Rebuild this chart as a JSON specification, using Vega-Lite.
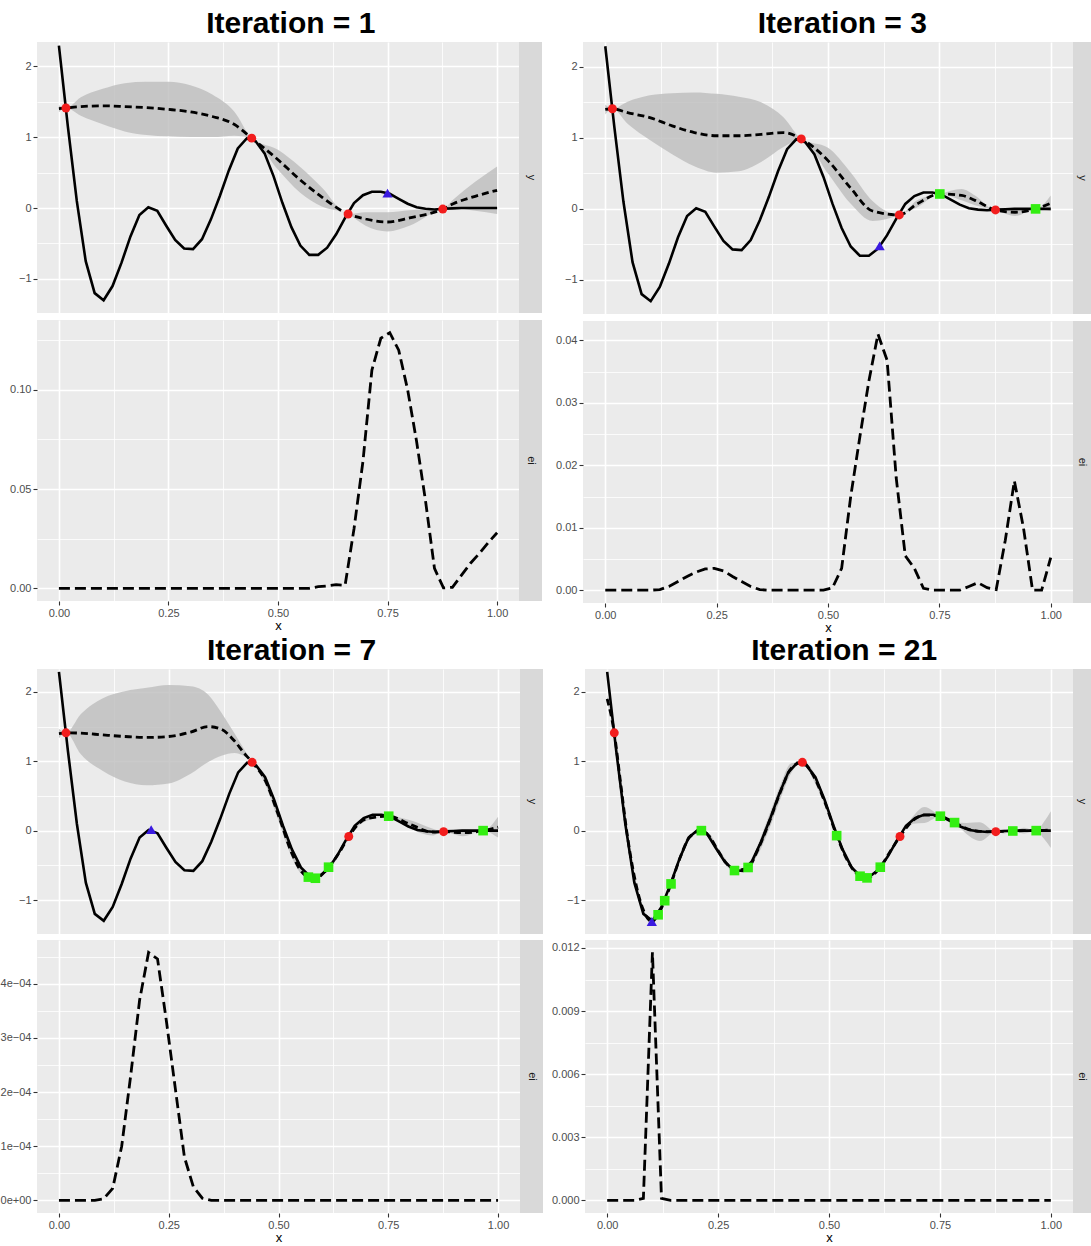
{
"$schema": "https://vega.github.io/schema/vega-lite/v6.json",
"padding": {"left": 0, "right": 0, "top": 9, "bottom": 0},
"config": {
 "font": "Liberation Sans",
 "view": {"fill": "#EBEBEB", "stroke": null},
 "axis": {"labelFont": "Liberation Sans", "labelFontSize": 11, "labelColor": "#4D4D4D", "tickColor": "#333333", "tickSize": 4, "tickWidth": 1.1, "labelPadding": 2, "domain": false, "gridColor": "#FFFFFF", "labelOverlap": false, "labelFlush": false, "titleFont": "Liberation Sans", "titleFontSize": 13, "titleFontWeight": "normal", "titleColor": "#000000", "titlePadding": 1},
 "title": {"font": "Liberation Sans", "fontSize": 30, "fontWeight": "bold", "color": "#000000", "anchor": "middle", "offset": 3}
},
"datasets": {
 "truth": [
  {"x":0,"y":2.29},{"x":0.0204,"y":1.15},{"x":0.0408,"y":0.10},{"x":0.0612,"y":-0.75},{"x":0.0816,"y":-1.20},{"x":0.102,"y":-1.30},{"x":0.1224,"y":-1.10},{"x":0.1429,"y":-0.77},{"x":0.1633,"y":-0.40},{"x":0.1837,"y":-0.10},{"x":0.2041,"y":0.01},{"x":0.2245,"y":-0.04},{"x":0.2449,"y":-0.25},{"x":0.2653,"y":-0.45},{"x":0.2857,"y":-0.57},{"x":0.3061,"y":-0.58},{"x":0.3265,"y":-0.44},{"x":0.3469,"y":-0.16},{"x":0.3673,"y":0.17},{"x":0.3878,"y":0.53},{"x":0.4082,"y":0.84},{"x":0.4286,"y":0.98},{"x":0.449,"y":0.94},{"x":0.4694,"y":0.77},{"x":0.4898,"y":0.45},{"x":0.5102,"y":0.07},{"x":0.5306,"y":-0.27},{"x":0.551,"y":-0.53},{"x":0.5714,"y":-0.66},{"x":0.5918,"y":-0.66},{"x":0.6122,"y":-0.56},{"x":0.6327,"y":-0.37},{"x":0.6531,"y":-0.14},{"x":0.6735,"y":0.07},{"x":0.6939,"y":0.18},{"x":0.7143,"y":0.23},{"x":0.7347,"y":0.23},{"x":0.7551,"y":0.20},{"x":0.7755,"y":0.13},{"x":0.7959,"y":0.06},{"x":0.8163,"y":0.01},{"x":0.8367,"y":-0.01},{"x":0.8571,"y":-0.02},{"x":0.8776,"y":-0.01},{"x":0.898,"y":-0.005},{"x":0.9184,"y":0},{"x":0.9388,"y":0},{"x":0.9592,"y":0},{"x":0.9796,"y":0},{"x":1,"y":0}
 ],
 "gp": [
  {"iter":1,"x":0,"mean":1.40,"lo":1.35,"hi":1.45},{"iter":1,"x":0.016,"mean":1.41,"lo":1.41,"hi":1.41},{"iter":1,"x":0.05,"mean":1.43,"lo":1.30,"hi":1.56},{"iter":1,"x":0.1,"mean":1.44,"lo":1.18,"hi":1.68},{"iter":1,"x":0.15,"mean":1.43,"lo":1.08,"hi":1.76},{"iter":1,"x":0.2,"mean":1.415,"lo":1.03,"hi":1.78},{"iter":1,"x":0.25,"mean":1.39,"lo":1.01,"hi":1.78},{"iter":1,"x":0.3,"mean":1.355,"lo":1.0,"hi":1.73},{"iter":1,"x":0.35,"mean":1.29,"lo":1.0,"hi":1.60},{"iter":1,"x":0.4,"mean":1.18,"lo":1.02,"hi":1.36},{"iter":1,"x":0.44,"mean":0.985,"lo":0.985,"hi":0.985},{"iter":1,"x":0.5,"mean":0.68,"lo":0.54,"hi":0.82},{"iter":1,"x":0.55,"mean":0.40,"lo":0.22,"hi":0.58},{"iter":1,"x":0.6,"mean":0.155,"lo":0.02,"hi":0.29},{"iter":1,"x":0.66,"mean":-0.085,"lo":-0.085,"hi":-0.085},{"iter":1,"x":0.7,"mean":-0.155,"lo":-0.25,"hi":-0.06},{"iter":1,"x":0.75,"mean":-0.197,"lo":-0.33,"hi":-0.06},{"iter":1,"x":0.8,"mean":-0.14,"lo":-0.25,"hi":-0.03},{"iter":1,"x":0.876,"mean":-0.015,"lo":-0.015,"hi":-0.015},{"iter":1,"x":0.9,"mean":0.06,"lo":0.0,"hi":0.12},{"iter":1,"x":0.95,"mean":0.165,"lo":-0.04,"hi":0.37},{"iter":1,"x":1,"mean":0.25,"lo":-0.085,"hi":0.585},
  {"iter":3,"x":0,"mean":1.40,"lo":1.33,"hi":1.47},{"iter":3,"x":0.016,"mean":1.41,"lo":1.41,"hi":1.41},{"iter":3,"x":0.05,"mean":1.355,"lo":1.20,"hi":1.51},{"iter":3,"x":0.1,"mean":1.285,"lo":0.97,"hi":1.60},{"iter":3,"x":0.15,"mean":1.17,"lo":0.77,"hi":1.63},{"iter":3,"x":0.2,"mean":1.075,"lo":0.60,"hi":1.64},{"iter":3,"x":0.25,"mean":1.03,"lo":0.51,"hi":1.62},{"iter":3,"x":0.3,"mean":1.03,"lo":0.53,"hi":1.58},{"iter":3,"x":0.35,"mean":1.05,"lo":0.66,"hi":1.50},{"iter":3,"x":0.4,"mean":1.075,"lo":0.87,"hi":1.29},{"iter":3,"x":0.44,"mean":0.985,"lo":0.985,"hi":0.985},{"iter":3,"x":0.5,"mean":0.68,"lo":0.50,"hi":0.86},{"iter":3,"x":0.55,"mean":0.30,"lo":0.08,"hi":0.52},{"iter":3,"x":0.6,"mean":-0.03,"lo":-0.17,"hi":0.11},{"iter":3,"x":0.66,"mean":-0.085,"lo":-0.085,"hi":-0.085},{"iter":3,"x":0.7,"mean":0.07,"lo":0.02,"hi":0.12},{"iter":3,"x":0.751,"mean":0.21,"lo":0.21,"hi":0.21},{"iter":3,"x":0.8,"mean":0.19,"lo":0.12,"hi":0.28},{"iter":3,"x":0.83,"mean":0.12,"lo":0.05,"hi":0.19},{"iter":3,"x":0.876,"mean":-0.015,"lo":-0.015,"hi":-0.015},{"iter":3,"x":0.92,"mean":-0.047,"lo":-0.10,"hi":0.0},{"iter":3,"x":0.966,"mean":0.0,"lo":0.0,"hi":0.0},{"iter":3,"x":1,"mean":0.08,"lo":-0.03,"hi":0.19},
  {"iter":7,"x":0,"mean":1.40,"lo":1.33,"hi":1.47},{"iter":7,"x":0.016,"mean":1.41,"lo":1.41,"hi":1.41},{"iter":7,"x":0.05,"mean":1.405,"lo":1.10,"hi":1.68},{"iter":7,"x":0.1,"mean":1.38,"lo":0.86,"hi":1.91},{"iter":7,"x":0.15,"mean":1.357,"lo":0.71,"hi":2.01},{"iter":7,"x":0.2,"mean":1.343,"lo":0.655,"hi":2.06},{"iter":7,"x":0.25,"mean":1.357,"lo":0.68,"hi":2.10},{"iter":7,"x":0.3,"mean":1.42,"lo":0.82,"hi":2.08},{"iter":7,"x":0.34,"mean":1.50,"lo":0.99,"hi":1.96},{"iter":7,"x":0.37,"mean":1.46,"lo":1.08,"hi":1.70},{"iter":7,"x":0.4,"mean":1.29,"lo":1.12,"hi":1.40},{"iter":7,"x":0.42,"mean":1.13,"lo":1.08,"hi":1.19},{"iter":7,"x":0.44,"mean":0.985,"lo":0.985,"hi":0.985},{"iter":7,"x":0.47,"mean":0.72,"lo":0.66,"hi":0.80},{"iter":7,"x":0.5,"mean":0.22,"lo":0.14,"hi":0.30},{"iter":7,"x":0.53,"mean":-0.32,"lo":-0.38,"hi":-0.26},{"iter":7,"x":0.55,"mean":-0.57,"lo":-0.61,"hi":-0.53},{"iter":7,"x":0.568,"mean":-0.67,"lo":-0.67,"hi":-0.67},{"iter":7,"x":0.584,"mean":-0.686,"lo":-0.686,"hi":-0.686},{"iter":7,"x":0.614,"mean":-0.527,"lo":-0.527,"hi":-0.527},{"iter":7,"x":0.64,"mean":-0.30,"lo":-0.32,"hi":-0.28},{"iter":7,"x":0.66,"mean":-0.085,"lo":-0.085,"hi":-0.085},{"iter":7,"x":0.7,"mean":0.17,"lo":0.14,"hi":0.20},{"iter":7,"x":0.751,"mean":0.208,"lo":0.208,"hi":0.208},{"iter":7,"x":0.8,"mean":0.09,"lo":0.03,"hi":0.15},{"iter":7,"x":0.85,"mean":-0.02,"lo":-0.07,"hi":0.03},{"iter":7,"x":0.876,"mean":-0.015,"lo":-0.015,"hi":-0.015},{"iter":7,"x":0.92,"mean":-0.03,"lo":-0.08,"hi":0.02},{"iter":7,"x":0.966,"mean":0.0,"lo":0.0,"hi":0.0},{"iter":7,"x":1,"mean":0.05,"lo":-0.10,"hi":0.20},
  {"iter":21,"x":0,"mean":1.90,"lo":1.84,"hi":1.96},{"iter":21,"x":0.016,"mean":1.41,"lo":1.41,"hi":1.41},{"iter":21,"x":0.03,"mean":0.70,"lo":0.62,"hi":0.78},{"iter":21,"x":0.045,"mean":-0.05,"lo":-0.10,"hi":0.0},{"iter":21,"x":0.06,"mean":-0.62,"lo":-0.66,"hi":-0.58},{"iter":21,"x":0.08,"mean":-1.12,"lo":-1.15,"hi":-1.09},{"iter":21,"x":0.1006,"mean":-1.31,"lo":-1.31,"hi":-1.31},{"iter":21,"x":0.1148,"mean":-1.213,"lo":-1.213,"hi":-1.213},{"iter":21,"x":0.1297,"mean":-1.01,"lo":-1.01,"hi":-1.01},{"iter":21,"x":0.1439,"mean":-0.768,"lo":-0.768,"hi":-0.768},{"iter":21,"x":0.165,"mean":-0.38,"lo":-0.42,"hi":-0.34},{"iter":21,"x":0.185,"mean":-0.10,"lo":-0.14,"hi":-0.06},{"iter":21,"x":0.2123,"mean":0.0,"lo":0.0,"hi":0.0},{"iter":21,"x":0.23,"mean":-0.08,"lo":-0.12,"hi":-0.04},{"iter":21,"x":0.25,"mean":-0.29,"lo":-0.33,"hi":-0.25},{"iter":21,"x":0.27,"mean":-0.48,"lo":-0.52,"hi":-0.44},{"iter":21,"x":0.287,"mean":-0.575,"lo":-0.575,"hi":-0.575},{"iter":21,"x":0.3176,"mean":-0.531,"lo":-0.531,"hi":-0.531},{"iter":21,"x":0.34,"mean":-0.27,"lo":-0.34,"hi":-0.20},{"iter":21,"x":0.365,"mean":0.12,"lo":0.02,"hi":0.22},{"iter":21,"x":0.39,"mean":0.55,"lo":0.45,"hi":0.65},{"iter":21,"x":0.415,"mean":0.90,"lo":0.83,"hi":0.97},{"iter":21,"x":0.44,"mean":0.985,"lo":0.985,"hi":0.985},{"iter":21,"x":0.465,"mean":0.79,"lo":0.73,"hi":0.85},{"iter":21,"x":0.49,"mean":0.42,"lo":0.37,"hi":0.47},{"iter":21,"x":0.5173,"mean":-0.072,"lo":-0.072,"hi":-0.072},{"iter":21,"x":0.545,"mean":-0.47,"lo":-0.50,"hi":-0.44},{"iter":21,"x":0.57,"mean":-0.657,"lo":-0.657,"hi":-0.657},{"iter":21,"x":0.5857,"mean":-0.681,"lo":-0.681,"hi":-0.681},{"iter":21,"x":0.6156,"mean":-0.527,"lo":-0.527,"hi":-0.527},{"iter":21,"x":0.64,"mean":-0.28,"lo":-0.30,"hi":-0.26},{"iter":21,"x":0.66,"mean":-0.085,"lo":-0.085,"hi":-0.085},{"iter":21,"x":0.69,"mean":0.15,"lo":0.10,"hi":0.21},{"iter":21,"x":0.715,"mean":0.225,"lo":0.11,"hi":0.34},{"iter":21,"x":0.751,"mean":0.208,"lo":0.208,"hi":0.208},{"iter":21,"x":0.783,"mean":0.116,"lo":0.116,"hi":0.116},{"iter":21,"x":0.81,"mean":0.03,"lo":-0.05,"hi":0.11},{"iter":21,"x":0.84,"mean":-0.01,"lo":-0.15,"hi":0.12},{"iter":21,"x":0.876,"mean":-0.015,"lo":-0.015,"hi":-0.015},{"iter":21,"x":0.895,"mean":-0.01,"lo":-0.04,"hi":0.02},{"iter":21,"x":0.9143,"mean":-0.005,"lo":-0.005,"hi":-0.005},{"iter":21,"x":0.94,"mean":0.0,"lo":-0.04,"hi":0.04},{"iter":21,"x":0.967,"mean":0.0,"lo":0.0,"hi":0.0},{"iter":21,"x":0.985,"mean":0.005,"lo":-0.12,"hi":0.13},{"iter":21,"x":1,"mean":0.01,"lo":-0.25,"hi":0.28}
 ],
 "ei": [
  {"iter":1,"x":0,"ei":0},{"iter":1,"x":0.5714,"ei":0},{"iter":1,"x":0.5918,"ei":0.0008},{"iter":1,"x":0.6122,"ei":0.0012},{"iter":1,"x":0.6327,"ei":0.0018},{"iter":1,"x":0.6531,"ei":0.0015},{"iter":1,"x":0.6735,"ei":0.030},{"iter":1,"x":0.6939,"ei":0.064},{"iter":1,"x":0.7143,"ei":0.110},{"iter":1,"x":0.7347,"ei":0.126},{"iter":1,"x":0.7551,"ei":0.1288},{"iter":1,"x":0.7755,"ei":0.120},{"iter":1,"x":0.7959,"ei":0.100},{"iter":1,"x":0.8163,"ei":0.074},{"iter":1,"x":0.8367,"ei":0.044},{"iter":1,"x":0.8571,"ei":0.010},{"iter":1,"x":0.8776,"ei":0.0002},{"iter":1,"x":0.898,"ei":0.0005},{"iter":1,"x":0.9184,"ei":0.0065},{"iter":1,"x":0.9388,"ei":0.0125},{"iter":1,"x":0.9592,"ei":0.0175},{"iter":1,"x":0.9796,"ei":0.023},{"iter":1,"x":1,"ei":0.028},
  {"iter":3,"x":0,"ei":0},{"iter":3,"x":0.102,"ei":0},{"iter":3,"x":0.1224,"ei":0.0001},{"iter":3,"x":0.1429,"ei":0.0006},{"iter":3,"x":0.1633,"ei":0.0014},{"iter":3,"x":0.1837,"ei":0.0022},{"iter":3,"x":0.2041,"ei":0.0029},{"iter":3,"x":0.2245,"ei":0.0034},{"iter":3,"x":0.2449,"ei":0.0035},{"iter":3,"x":0.2653,"ei":0.0031},{"iter":3,"x":0.2857,"ei":0.0022},{"iter":3,"x":0.3061,"ei":0.0014},{"iter":3,"x":0.3265,"ei":0.0006},{"iter":3,"x":0.3469,"ei":0.0001},{"iter":3,"x":0.3673,"ei":0},{"iter":3,"x":0.4898,"ei":0},{"iter":3,"x":0.5102,"ei":0.0004},{"iter":3,"x":0.5306,"ei":0.0035},{"iter":3,"x":0.551,"ei":0.015},{"iter":3,"x":0.5714,"ei":0.0245},{"iter":3,"x":0.5918,"ei":0.0335},{"iter":3,"x":0.6122,"ei":0.041},{"iter":3,"x":0.6327,"ei":0.0368},{"iter":3,"x":0.6531,"ei":0.018},{"iter":3,"x":0.6735,"ei":0.0055},{"iter":3,"x":0.6939,"ei":0.0035},{"iter":3,"x":0.7143,"ei":0.0003},{"iter":3,"x":0.7347,"ei":0},{"iter":3,"x":0.7959,"ei":0},{"iter":3,"x":0.8163,"ei":0.0006},{"iter":3,"x":0.8367,"ei":0.0012},{"iter":3,"x":0.8571,"ei":0.0004},{"iter":3,"x":0.8776,"ei":0.0001},{"iter":3,"x":0.898,"ei":0.008},{"iter":3,"x":0.9184,"ei":0.0175},{"iter":3,"x":0.9388,"ei":0.010},{"iter":3,"x":0.9592,"ei":0},{"iter":3,"x":0.9796,"ei":0},{"iter":3,"x":1,"ei":0.0052},
  {"iter":7,"x":0,"ei":0},{"iter":7,"x":0.0816,"ei":0},{"iter":7,"x":0.102,"ei":0.000003},{"iter":7,"x":0.1224,"ei":0.000022},{"iter":7,"x":0.1429,"ei":0.0001},{"iter":7,"x":0.1633,"ei":0.00023},{"iter":7,"x":0.1837,"ei":0.00037},{"iter":7,"x":0.2041,"ei":0.000458},{"iter":7,"x":0.2245,"ei":0.000446},{"iter":7,"x":0.2449,"ei":0.00033},{"iter":7,"x":0.2653,"ei":0.000205},{"iter":7,"x":0.2857,"ei":0.00008},{"iter":7,"x":0.3061,"ei":0.000025},{"iter":7,"x":0.3265,"ei":0.000004},{"iter":7,"x":0.3469,"ei":0},{"iter":7,"x":1,"ei":0},
  {"iter":21,"x":0,"ei":0},{"iter":21,"x":0.0612,"ei":0},{"iter":21,"x":0.0816,"ei":0.0001},{"iter":21,"x":0.102,"ei":0.0118},{"iter":21,"x":0.1224,"ei":0.0001},{"iter":21,"x":0.1429,"ei":0},{"iter":21,"x":1,"ei":0}
 ],
 "pts": [
  {"iter":1,"x":0.016,"y":1.41,"type":"init"},{"iter":1,"x":0.44,"y":0.985,"type":"init"},{"iter":1,"x":0.66,"y":-0.085,"type":"init"},{"iter":1,"x":0.876,"y":-0.015,"type":"init"},{"iter":1,"x":0.75,"y":0.21,"type":"prop"},
  {"iter":3,"x":0.016,"y":1.41,"type":"init"},{"iter":3,"x":0.44,"y":0.985,"type":"init"},{"iter":3,"x":0.66,"y":-0.085,"type":"init"},{"iter":3,"x":0.876,"y":-0.015,"type":"init"},{"iter":3,"x":0.751,"y":0.21,"type":"seq"},{"iter":3,"x":0.966,"y":0.0,"type":"seq"},{"iter":3,"x":0.616,"y":-0.52,"type":"prop"},
  {"iter":7,"x":0.016,"y":1.41,"type":"init"},{"iter":7,"x":0.44,"y":0.985,"type":"init"},{"iter":7,"x":0.66,"y":-0.085,"type":"init"},{"iter":7,"x":0.876,"y":-0.015,"type":"init"},{"iter":7,"x":0.568,"y":-0.67,"type":"seq"},{"iter":7,"x":0.584,"y":-0.686,"type":"seq"},{"iter":7,"x":0.614,"y":-0.527,"type":"seq"},{"iter":7,"x":0.751,"y":0.208,"type":"seq"},{"iter":7,"x":0.966,"y":0.0,"type":"seq"},{"iter":7,"x":0.21,"y":0.015,"type":"prop"},
  {"iter":21,"x":0.016,"y":1.41,"type":"init"},{"iter":21,"x":0.44,"y":0.985,"type":"init"},{"iter":21,"x":0.66,"y":-0.085,"type":"init"},{"iter":21,"x":0.876,"y":-0.015,"type":"init"},{"iter":21,"x":0.1148,"y":-1.213,"type":"seq"},{"iter":21,"x":0.1297,"y":-1.01,"type":"seq"},{"iter":21,"x":0.1439,"y":-0.768,"type":"seq"},{"iter":21,"x":0.2123,"y":0.0,"type":"seq"},{"iter":21,"x":0.287,"y":-0.575,"type":"seq"},{"iter":21,"x":0.3176,"y":-0.531,"type":"seq"},{"iter":21,"x":0.5173,"y":-0.072,"type":"seq"},{"iter":21,"x":0.57,"y":-0.657,"type":"seq"},{"iter":21,"x":0.5857,"y":-0.681,"type":"seq"},{"iter":21,"x":0.6156,"y":-0.527,"type":"seq"},{"iter":21,"x":0.751,"y":0.208,"type":"seq"},{"iter":21,"x":0.783,"y":0.116,"type":"seq"},{"iter":21,"x":0.9143,"y":-0.005,"type":"seq"},{"iter":21,"x":0.967,"y":0.0,"type":"seq"},{"iter":21,"x":0.1006,"y":-1.31,"type":"prop"}
 ]
},
"spacing": 2,
"vconcat": [
 {"spacing": 13, "hconcat": [
  {"title": {"text": "Iteration = 1", "dx": 15}, "spacing": 7, "vconcat": [
   {"spacing": 0, "hconcat": [
    {"width": 482, "height": 271,
     "encoding": {"x": {"field": "x", "type": "quantitative", "scale": {"domain": [-0.05, 1.05], "nice": false, "zero": false}, "axis": {"values": [0,0.125,0.25,0.375,0.5,0.625,0.75,0.875,1], "labels": false, "ticks": false, "domain": false, "title": null, "grid": true, "gridWidth": {"condition": {"test": "round(datum.value*8)%2==1", "value": 0.8}, "value": 1.6}}}},
     "layer": [
     {"data": {"name": "gp"}, "transform": [{"filter": "datum.iter == 1"}], "mark": {"type": "area", "color": "#BDBDBD", "opacity": 0.8, "interpolate": "monotone", "clip": true},
      "encoding": {"y": {"field": "lo", "type": "quantitative", "scale": {"domain": [-1.48, 2.34], "nice": false, "zero": false}, "axis": {"values": [-1,-0.5,0,0.5,1,1.5,2], "title": null, "grid": true, "labelExpr": "abs(round(datum.value*2))%2==1 ? '' : format(datum.value,'d')", "tickOpacity": {"condition": {"test": "abs(round(datum.value*2))%2==1", "value": 0}, "value": 1}, "gridWidth": {"condition": {"test": "abs(round(datum.value*2))%2==1", "value": 0.8}, "value": 1.6}}},
       "y2": {"field": "hi"}}},
     {"data": {"name": "truth"}, "mark": {"type": "line", "color": "#000000", "strokeWidth": 2.6, "clip": true},
      "encoding": {"y": {"field": "y", "type": "quantitative", "scale": {"domain": [-1.48, 2.34], "nice": false, "zero": false}, "axis": {"values": [-1,-0.5,0,0.5,1,1.5,2], "title": null, "grid": true, "labelExpr": "abs(round(datum.value*2))%2==1 ? '' : format(datum.value,'d')", "tickOpacity": {"condition": {"test": "abs(round(datum.value*2))%2==1", "value": 0}, "value": 1}, "gridWidth": {"condition": {"test": "abs(round(datum.value*2))%2==1", "value": 0.8}, "value": 1.6}}}}},
     {"data": {"name": "gp"}, "transform": [{"filter": "datum.iter == 1"}], "mark": {"type": "line", "color": "#000000", "strokeWidth": 2.8, "strokeDash": [7, 4], "interpolate": "monotone", "clip": true},
      "encoding": {"y": {"field": "mean", "type": "quantitative", "scale": {"domain": [-1.48, 2.34], "nice": false, "zero": false}, "axis": {"values": [-1,-0.5,0,0.5,1,1.5,2], "title": null, "grid": true, "labelExpr": "abs(round(datum.value*2))%2==1 ? '' : format(datum.value,'d')", "tickOpacity": {"condition": {"test": "abs(round(datum.value*2))%2==1", "value": 0}, "value": 1}, "gridWidth": {"condition": {"test": "abs(round(datum.value*2))%2==1", "value": 0.8}, "value": 1.6}}}}},
     {"data": {"name": "pts"}, "transform": [{"filter": "datum.iter == 1"}], "mark": {"type": "point", "filled": true, "opacity": 1},
      "encoding": {"y": {"field": "y", "type": "quantitative", "scale": {"domain": [-1.48, 2.34], "nice": false, "zero": false}, "axis": {"values": [-1,-0.5,0,0.5,1,1.5,2], "title": null, "grid": true, "labelExpr": "abs(round(datum.value*2))%2==1 ? '' : format(datum.value,'d')", "tickOpacity": {"condition": {"test": "abs(round(datum.value*2))%2==1", "value": 0}, "value": 1}, "gridWidth": {"condition": {"test": "abs(round(datum.value*2))%2==1", "value": 0.8}, "value": 1.6}}},
       "color": {"field": "type", "type": "nominal", "scale": {"domain": ["init", "seq", "prop"], "range": ["#F21D1D", "#33EE11", "#3A1AE0"]}, "legend": null},
       "shape": {"field": "type", "type": "nominal", "scale": {"domain": ["init", "seq", "prop"], "range": ["circle", "square", "triangle-up"]}, "legend": null},
       "size": {"field": "type", "type": "nominal", "scale": {"domain": ["init", "seq", "prop"], "range": [80, 105, 150]}, "legend": null}}}
    ]},
    {"width": 23, "height": 271, "view": {"fill": "#D9D9D9"}, "data": {"values": [{"lab": "y"}]}, "mark": {"type": "text", "angle": 90, "fontSize": 11, "color": "#1A1A1A"}, "encoding": {"text": {"field": "lab", "type": "nominal"}}}
   ]},
   {"spacing": 0, "hconcat": [
    {"width": 482, "height": 281, "data": {"name": "ei"}, "transform": [{"filter": "datum.iter == 1"}], "mark": {"type": "line", "color": "#000000", "strokeWidth": 2.8, "strokeDash": [11, 5], "clip": true},
     "encoding": {"x": {"field": "x", "type": "quantitative", "scale": {"domain": [-0.05, 1.05], "nice": false, "zero": false}, "axis": {"values": [0,0.125,0.25,0.375,0.5,0.625,0.75,0.875,1], "title": "x", "grid": true, "labelExpr": "round(datum.value*8)%2==1 ? '' : format(datum.value,'.2f')", "tickOpacity": {"condition": {"test": "round(datum.value*8)%2==1", "value": 0}, "value": 1}, "gridWidth": {"condition": {"test": "round(datum.value*8)%2==1", "value": 0.8}, "value": 1.6}}},
      "y": {"field": "ei", "type": "quantitative", "scale": {"domain": [-0.0064, 0.1352], "nice": false, "zero": false}, "axis": {"values": [0,0.025,0.05,0.075,0.1,0.125], "title": null, "grid": true, "labelExpr": "round(datum.value*1000)%50!=0 ? '' : format(datum.value,'.2f')", "tickOpacity": {"condition": {"test": "round(datum.value*1000)%50!=0", "value": 0}, "value": 1}, "gridWidth": {"condition": {"test": "round(datum.value*1000)%50!=0", "value": 0.8}, "value": 1.6}}}}},
    {"width": 23, "height": 281, "view": {"fill": "#D9D9D9"}, "data": {"values": [{"lab": "ei"}]}, "mark": {"type": "text", "angle": 90, "fontSize": 11, "color": "#1A1A1A"}, "encoding": {"text": {"field": "lab", "type": "nominal"}}}
   ]}
  ]},
  {"title": {"text": "Iteration = 3", "dx": 19}, "spacing": 7, "vconcat": [
   {"spacing": 0, "hconcat": [
    {"width": 490, "height": 272,
     "encoding": {"x": {"field": "x", "type": "quantitative", "scale": {"domain": [-0.05, 1.05], "nice": false, "zero": false}, "axis": {"values": [0,0.125,0.25,0.375,0.5,0.625,0.75,0.875,1], "labels": false, "ticks": false, "domain": false, "title": null, "grid": true, "gridWidth": {"condition": {"test": "round(datum.value*8)%2==1", "value": 0.8}, "value": 1.6}}}},
     "layer": [
     {"data": {"name": "gp"}, "transform": [{"filter": "datum.iter == 3"}], "mark": {"type": "area", "color": "#BDBDBD", "opacity": 0.8, "interpolate": "monotone", "clip": true},
      "encoding": {"y": {"field": "lo", "type": "quantitative", "scale": {"domain": [-1.48, 2.35], "nice": false, "zero": false}, "axis": {"values": [-1,-0.5,0,0.5,1,1.5,2], "title": null, "grid": true, "labelExpr": "abs(round(datum.value*2))%2==1 ? '' : format(datum.value,'d')", "tickOpacity": {"condition": {"test": "abs(round(datum.value*2))%2==1", "value": 0}, "value": 1}, "gridWidth": {"condition": {"test": "abs(round(datum.value*2))%2==1", "value": 0.8}, "value": 1.6}}},
       "y2": {"field": "hi"}}},
     {"data": {"name": "truth"}, "mark": {"type": "line", "color": "#000000", "strokeWidth": 2.6, "clip": true},
      "encoding": {"y": {"field": "y", "type": "quantitative", "scale": {"domain": [-1.48, 2.35], "nice": false, "zero": false}, "axis": {"values": [-1,-0.5,0,0.5,1,1.5,2], "title": null, "grid": true, "labelExpr": "abs(round(datum.value*2))%2==1 ? '' : format(datum.value,'d')", "tickOpacity": {"condition": {"test": "abs(round(datum.value*2))%2==1", "value": 0}, "value": 1}, "gridWidth": {"condition": {"test": "abs(round(datum.value*2))%2==1", "value": 0.8}, "value": 1.6}}}}},
     {"data": {"name": "gp"}, "transform": [{"filter": "datum.iter == 3"}], "mark": {"type": "line", "color": "#000000", "strokeWidth": 2.8, "strokeDash": [7, 4], "interpolate": "monotone", "clip": true},
      "encoding": {"y": {"field": "mean", "type": "quantitative", "scale": {"domain": [-1.48, 2.35], "nice": false, "zero": false}, "axis": {"values": [-1,-0.5,0,0.5,1,1.5,2], "title": null, "grid": true, "labelExpr": "abs(round(datum.value*2))%2==1 ? '' : format(datum.value,'d')", "tickOpacity": {"condition": {"test": "abs(round(datum.value*2))%2==1", "value": 0}, "value": 1}, "gridWidth": {"condition": {"test": "abs(round(datum.value*2))%2==1", "value": 0.8}, "value": 1.6}}}}},
     {"data": {"name": "pts"}, "transform": [{"filter": "datum.iter == 3"}], "mark": {"type": "point", "filled": true, "opacity": 1},
      "encoding": {"y": {"field": "y", "type": "quantitative", "scale": {"domain": [-1.48, 2.35], "nice": false, "zero": false}, "axis": {"values": [-1,-0.5,0,0.5,1,1.5,2], "title": null, "grid": true, "labelExpr": "abs(round(datum.value*2))%2==1 ? '' : format(datum.value,'d')", "tickOpacity": {"condition": {"test": "abs(round(datum.value*2))%2==1", "value": 0}, "value": 1}, "gridWidth": {"condition": {"test": "abs(round(datum.value*2))%2==1", "value": 0.8}, "value": 1.6}}},
       "color": {"field": "type", "type": "nominal", "scale": {"domain": ["init", "seq", "prop"], "range": ["#F21D1D", "#33EE11", "#3A1AE0"]}, "legend": null},
       "shape": {"field": "type", "type": "nominal", "scale": {"domain": ["init", "seq", "prop"], "range": ["circle", "square", "triangle-up"]}, "legend": null},
       "size": {"field": "type", "type": "nominal", "scale": {"domain": ["init", "seq", "prop"], "range": [80, 105, 150]}, "legend": null}}}
    ]},
    {"width": 18, "height": 272, "view": {"fill": "#D9D9D9"}, "data": {"values": [{"lab": "y"}]}, "mark": {"type": "text", "angle": 90, "fontSize": 11, "color": "#1A1A1A"}, "encoding": {"text": {"field": "lab", "type": "nominal"}}}
   ]},
   {"spacing": 0, "hconcat": [
    {"width": 490, "height": 282, "data": {"name": "ei"}, "transform": [{"filter": "datum.iter == 3"}], "mark": {"type": "line", "color": "#000000", "strokeWidth": 2.8, "strokeDash": [11, 5], "clip": true},
     "encoding": {"x": {"field": "x", "type": "quantitative", "scale": {"domain": [-0.05, 1.05], "nice": false, "zero": false}, "axis": {"values": [0,0.125,0.25,0.375,0.5,0.625,0.75,0.875,1], "title": "x", "grid": true, "labelExpr": "round(datum.value*8)%2==1 ? '' : format(datum.value,'.2f')", "tickOpacity": {"condition": {"test": "round(datum.value*8)%2==1", "value": 0}, "value": 1}, "gridWidth": {"condition": {"test": "round(datum.value*8)%2==1", "value": 0.8}, "value": 1.6}}},
      "y": {"field": "ei", "type": "quantitative", "scale": {"domain": [-0.00205, 0.0431], "nice": false, "zero": false}, "axis": {"values": [0,0.005,0.01,0.015,0.02,0.025,0.03,0.035,0.04], "title": null, "grid": true, "labelExpr": "round(datum.value*1000)%10!=0 ? '' : format(datum.value,'.2f')", "tickOpacity": {"condition": {"test": "round(datum.value*1000)%10!=0", "value": 0}, "value": 1}, "gridWidth": {"condition": {"test": "round(datum.value*1000)%10!=0", "value": 0.8}, "value": 1.6}}}}},
    {"width": 18, "height": 282, "view": {"fill": "#D9D9D9"}, "data": {"values": [{"lab": "ei"}]}, "mark": {"type": "text", "angle": 90, "fontSize": 11, "color": "#1A1A1A"}, "encoding": {"text": {"field": "lab", "type": "nominal"}}}
   ]}
  ]}
 ]},
 {"spacing": 8, "hconcat": [
  {"title": {"text": "Iteration = 7", "dx": 20}, "spacing": 6, "vconcat": [
   {"spacing": 0, "hconcat": [
    {"width": 483, "height": 265,
     "encoding": {"x": {"field": "x", "type": "quantitative", "scale": {"domain": [-0.05, 1.05], "nice": false, "zero": false}, "axis": {"values": [0,0.125,0.25,0.375,0.5,0.625,0.75,0.875,1], "labels": false, "ticks": false, "domain": false, "title": null, "grid": true, "gridWidth": {"condition": {"test": "round(datum.value*8)%2==1", "value": 0.8}, "value": 1.6}}}},
     "layer": [
     {"data": {"name": "gp"}, "transform": [{"filter": "datum.iter == 7"}], "mark": {"type": "area", "color": "#BDBDBD", "opacity": 0.8, "interpolate": "monotone", "clip": true},
      "encoding": {"y": {"field": "lo", "type": "quantitative", "scale": {"domain": [-1.49, 2.33], "nice": false, "zero": false}, "axis": {"values": [-1,-0.5,0,0.5,1,1.5,2], "title": null, "grid": true, "labelExpr": "abs(round(datum.value*2))%2==1 ? '' : format(datum.value,'d')", "tickOpacity": {"condition": {"test": "abs(round(datum.value*2))%2==1", "value": 0}, "value": 1}, "gridWidth": {"condition": {"test": "abs(round(datum.value*2))%2==1", "value": 0.8}, "value": 1.6}}},
       "y2": {"field": "hi"}}},
     {"data": {"name": "truth"}, "mark": {"type": "line", "color": "#000000", "strokeWidth": 2.6, "clip": true},
      "encoding": {"y": {"field": "y", "type": "quantitative", "scale": {"domain": [-1.49, 2.33], "nice": false, "zero": false}, "axis": {"values": [-1,-0.5,0,0.5,1,1.5,2], "title": null, "grid": true, "labelExpr": "abs(round(datum.value*2))%2==1 ? '' : format(datum.value,'d')", "tickOpacity": {"condition": {"test": "abs(round(datum.value*2))%2==1", "value": 0}, "value": 1}, "gridWidth": {"condition": {"test": "abs(round(datum.value*2))%2==1", "value": 0.8}, "value": 1.6}}}}},
     {"data": {"name": "gp"}, "transform": [{"filter": "datum.iter == 7"}], "mark": {"type": "line", "color": "#000000", "strokeWidth": 2.8, "strokeDash": [7, 4], "interpolate": "monotone", "clip": true},
      "encoding": {"y": {"field": "mean", "type": "quantitative", "scale": {"domain": [-1.49, 2.33], "nice": false, "zero": false}, "axis": {"values": [-1,-0.5,0,0.5,1,1.5,2], "title": null, "grid": true, "labelExpr": "abs(round(datum.value*2))%2==1 ? '' : format(datum.value,'d')", "tickOpacity": {"condition": {"test": "abs(round(datum.value*2))%2==1", "value": 0}, "value": 1}, "gridWidth": {"condition": {"test": "abs(round(datum.value*2))%2==1", "value": 0.8}, "value": 1.6}}}}},
     {"data": {"name": "pts"}, "transform": [{"filter": "datum.iter == 7"}], "mark": {"type": "point", "filled": true, "opacity": 1},
      "encoding": {"y": {"field": "y", "type": "quantitative", "scale": {"domain": [-1.49, 2.33], "nice": false, "zero": false}, "axis": {"values": [-1,-0.5,0,0.5,1,1.5,2], "title": null, "grid": true, "labelExpr": "abs(round(datum.value*2))%2==1 ? '' : format(datum.value,'d')", "tickOpacity": {"condition": {"test": "abs(round(datum.value*2))%2==1", "value": 0}, "value": 1}, "gridWidth": {"condition": {"test": "abs(round(datum.value*2))%2==1", "value": 0.8}, "value": 1.6}}},
       "color": {"field": "type", "type": "nominal", "scale": {"domain": ["init", "seq", "prop"], "range": ["#F21D1D", "#33EE11", "#3A1AE0"]}, "legend": null},
       "shape": {"field": "type", "type": "nominal", "scale": {"domain": ["init", "seq", "prop"], "range": ["circle", "square", "triangle-up"]}, "legend": null},
       "size": {"field": "type", "type": "nominal", "scale": {"domain": ["init", "seq", "prop"], "range": [80, 105, 150]}, "legend": null}}}
    ]},
    {"width": 23, "height": 265, "view": {"fill": "#D9D9D9"}, "data": {"values": [{"lab": "y"}]}, "mark": {"type": "text", "angle": 90, "fontSize": 11, "color": "#1A1A1A"}, "encoding": {"text": {"field": "lab", "type": "nominal"}}}
   ]},
   {"spacing": 0, "hconcat": [
    {"width": 483, "height": 273, "data": {"name": "ei"}, "transform": [{"filter": "datum.iter == 7"}], "mark": {"type": "line", "color": "#000000", "strokeWidth": 2.8, "strokeDash": [11, 5], "clip": true},
     "encoding": {"x": {"field": "x", "type": "quantitative", "scale": {"domain": [-0.05, 1.05], "nice": false, "zero": false}, "axis": {"values": [0,0.125,0.25,0.375,0.5,0.625,0.75,0.875,1], "title": "x", "grid": true, "labelExpr": "round(datum.value*8)%2==1 ? '' : format(datum.value,'.2f')", "tickOpacity": {"condition": {"test": "round(datum.value*8)%2==1", "value": 0}, "value": 1}, "gridWidth": {"condition": {"test": "round(datum.value*8)%2==1", "value": 0.8}, "value": 1.6}}},
      "y": {"field": "ei", "type": "quantitative", "scale": {"domain": [-0.0000234, 0.000481], "nice": false, "zero": false}, "axis": {"values": [0,0.00005,0.0001,0.00015,0.0002,0.00025,0.0003,0.00035,0.0004,0.00045], "title": null, "grid": true, "labelExpr": "round(datum.value*100000)%10!=0 ? '' : (round(datum.value*10000) + 'e' + (datum.value == 0 ? '+00' : '\u221204'))", "tickOpacity": {"condition": {"test": "round(datum.value*100000)%10!=0", "value": 0}, "value": 1}, "gridWidth": {"condition": {"test": "round(datum.value*100000)%10!=0", "value": 0.8}, "value": 1.6}}}}},
    {"width": 23, "height": 273, "view": {"fill": "#D9D9D9"}, "data": {"values": [{"lab": "ei"}]}, "mark": {"type": "text", "angle": 90, "fontSize": 11, "color": "#1A1A1A"}, "encoding": {"text": {"field": "lab", "type": "nominal"}}}
   ]}
  ]},
  {"title": {"text": "Iteration = 21", "dx": 23}, "spacing": 6, "vconcat": [
   {"spacing": 0, "hconcat": [
    {"width": 488, "height": 265,
     "encoding": {"x": {"field": "x", "type": "quantitative", "scale": {"domain": [-0.05, 1.05], "nice": false, "zero": false}, "axis": {"values": [0,0.125,0.25,0.375,0.5,0.625,0.75,0.875,1], "labels": false, "ticks": false, "domain": false, "title": null, "grid": true, "gridWidth": {"condition": {"test": "round(datum.value*8)%2==1", "value": 0.8}, "value": 1.6}}}},
     "layer": [
     {"data": {"name": "gp"}, "transform": [{"filter": "datum.iter == 21"}], "mark": {"type": "area", "color": "#BDBDBD", "opacity": 0.8, "interpolate": "monotone", "clip": true},
      "encoding": {"y": {"field": "lo", "type": "quantitative", "scale": {"domain": [-1.49, 2.33], "nice": false, "zero": false}, "axis": {"values": [-1,-0.5,0,0.5,1,1.5,2], "title": null, "grid": true, "labelExpr": "abs(round(datum.value*2))%2==1 ? '' : format(datum.value,'d')", "tickOpacity": {"condition": {"test": "abs(round(datum.value*2))%2==1", "value": 0}, "value": 1}, "gridWidth": {"condition": {"test": "abs(round(datum.value*2))%2==1", "value": 0.8}, "value": 1.6}}},
       "y2": {"field": "hi"}}},
     {"data": {"name": "truth"}, "mark": {"type": "line", "color": "#000000", "strokeWidth": 2.6, "clip": true},
      "encoding": {"y": {"field": "y", "type": "quantitative", "scale": {"domain": [-1.49, 2.33], "nice": false, "zero": false}, "axis": {"values": [-1,-0.5,0,0.5,1,1.5,2], "title": null, "grid": true, "labelExpr": "abs(round(datum.value*2))%2==1 ? '' : format(datum.value,'d')", "tickOpacity": {"condition": {"test": "abs(round(datum.value*2))%2==1", "value": 0}, "value": 1}, "gridWidth": {"condition": {"test": "abs(round(datum.value*2))%2==1", "value": 0.8}, "value": 1.6}}}}},
     {"data": {"name": "gp"}, "transform": [{"filter": "datum.iter == 21"}], "mark": {"type": "line", "color": "#000000", "strokeWidth": 2.8, "strokeDash": [7, 4], "interpolate": "monotone", "clip": true},
      "encoding": {"y": {"field": "mean", "type": "quantitative", "scale": {"domain": [-1.49, 2.33], "nice": false, "zero": false}, "axis": {"values": [-1,-0.5,0,0.5,1,1.5,2], "title": null, "grid": true, "labelExpr": "abs(round(datum.value*2))%2==1 ? '' : format(datum.value,'d')", "tickOpacity": {"condition": {"test": "abs(round(datum.value*2))%2==1", "value": 0}, "value": 1}, "gridWidth": {"condition": {"test": "abs(round(datum.value*2))%2==1", "value": 0.8}, "value": 1.6}}}}},
     {"data": {"name": "pts"}, "transform": [{"filter": "datum.iter == 21"}], "mark": {"type": "point", "filled": true, "opacity": 1},
      "encoding": {"y": {"field": "y", "type": "quantitative", "scale": {"domain": [-1.49, 2.33], "nice": false, "zero": false}, "axis": {"values": [-1,-0.5,0,0.5,1,1.5,2], "title": null, "grid": true, "labelExpr": "abs(round(datum.value*2))%2==1 ? '' : format(datum.value,'d')", "tickOpacity": {"condition": {"test": "abs(round(datum.value*2))%2==1", "value": 0}, "value": 1}, "gridWidth": {"condition": {"test": "abs(round(datum.value*2))%2==1", "value": 0.8}, "value": 1.6}}},
       "color": {"field": "type", "type": "nominal", "scale": {"domain": ["init", "seq", "prop"], "range": ["#F21D1D", "#33EE11", "#3A1AE0"]}, "legend": null},
       "shape": {"field": "type", "type": "nominal", "scale": {"domain": ["init", "seq", "prop"], "range": ["circle", "square", "triangle-up"]}, "legend": null},
       "size": {"field": "type", "type": "nominal", "scale": {"domain": ["init", "seq", "prop"], "range": [80, 105, 150]}, "legend": null}}}
    ]},
    {"width": 18, "height": 265, "view": {"fill": "#D9D9D9"}, "data": {"values": [{"lab": "y"}]}, "mark": {"type": "text", "angle": 90, "fontSize": 11, "color": "#1A1A1A"}, "encoding": {"text": {"field": "lab", "type": "nominal"}}}
   ]},
   {"spacing": 0, "hconcat": [
    {"width": 488, "height": 273, "data": {"name": "ei"}, "transform": [{"filter": "datum.iter == 21"}], "mark": {"type": "line", "color": "#000000", "strokeWidth": 2.8, "strokeDash": [11, 5], "clip": true},
     "encoding": {"x": {"field": "x", "type": "quantitative", "scale": {"domain": [-0.05, 1.05], "nice": false, "zero": false}, "axis": {"values": [0,0.125,0.25,0.375,0.5,0.625,0.75,0.875,1], "title": "x", "grid": true, "labelExpr": "round(datum.value*8)%2==1 ? '' : format(datum.value,'.2f')", "tickOpacity": {"condition": {"test": "round(datum.value*8)%2==1", "value": 0}, "value": 1}, "gridWidth": {"condition": {"test": "round(datum.value*8)%2==1", "value": 0.8}, "value": 1.6}}},
      "y": {"field": "ei", "type": "quantitative", "scale": {"domain": [-0.0006, 0.01238], "nice": false, "zero": false}, "axis": {"values": [0,0.0015,0.003,0.0045,0.006,0.0075,0.009,0.0105,0.012], "title": null, "grid": true, "labelExpr": "round(datum.value*10000)%30!=0 ? '' : format(datum.value,'.3f')", "tickOpacity": {"condition": {"test": "round(datum.value*10000)%30!=0", "value": 0}, "value": 1}, "gridWidth": {"condition": {"test": "round(datum.value*10000)%30!=0", "value": 0.8}, "value": 1.6}}}}},
    {"width": 18, "height": 273, "view": {"fill": "#D9D9D9"}, "data": {"values": [{"lab": "ei"}]}, "mark": {"type": "text", "angle": 90, "fontSize": 11, "color": "#1A1A1A"}, "encoding": {"text": {"field": "lab", "type": "nominal"}}}
   ]}
  ]}
 ]}
]
}
